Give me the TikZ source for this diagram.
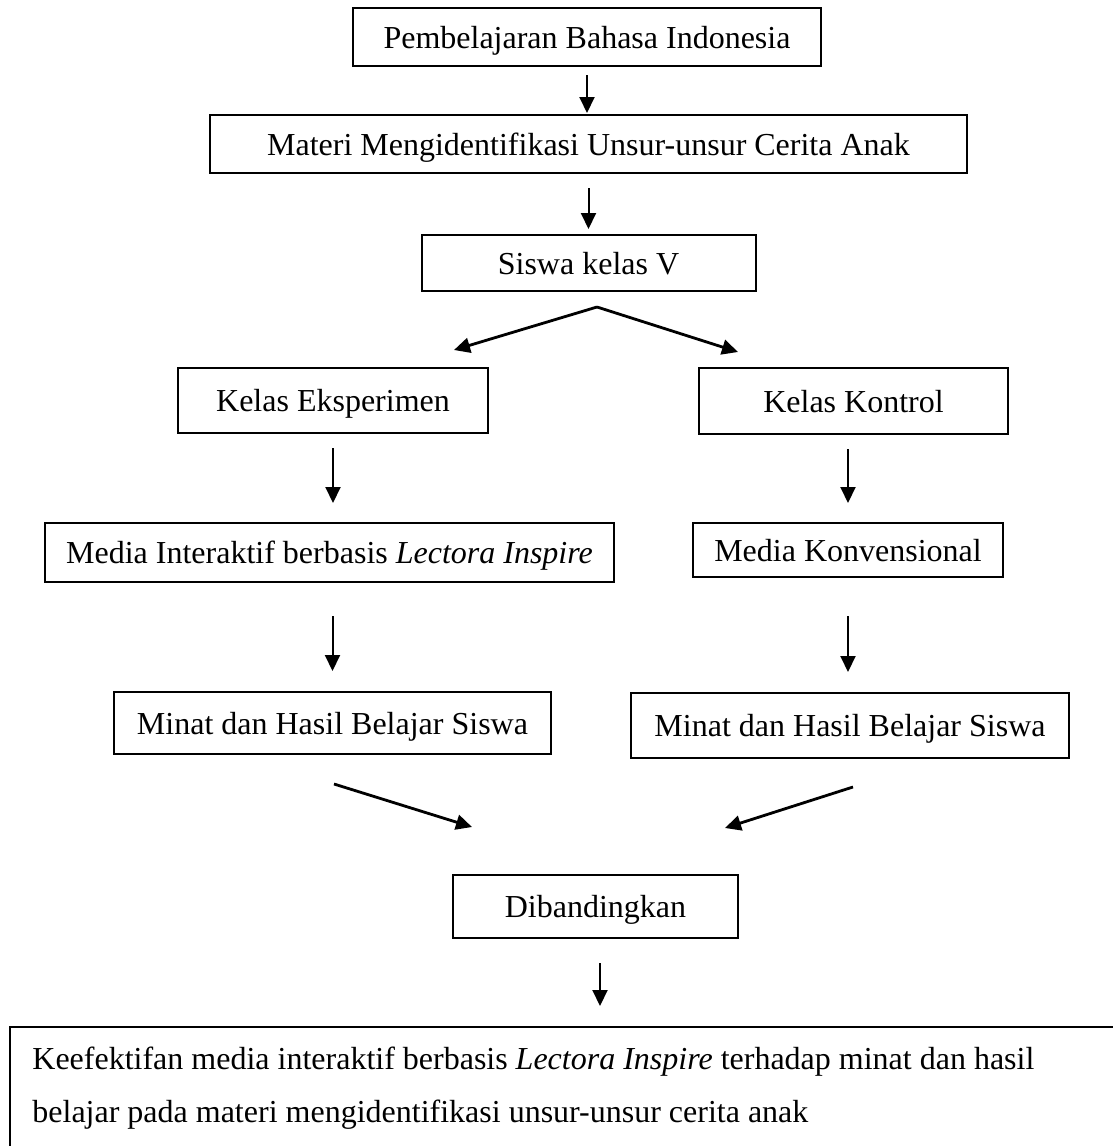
\documentclass[tikz,border=0pt]{standalone}
\usepackage{fontspec}
\setmainfont{Liberation Serif}
\usetikzlibrary{arrows.meta}
\begin{document}
\begin{tikzpicture}[x=0.5pt,y=-0.5pt,
  box/.style={draw, line width=1pt, inner sep=0pt, text height=13pt, text depth=1.6pt,
    font=\fontsize{16pt}{19pt}\selectfont},
  arr/.style={line width=1pt, -{Triangle[length=8pt,width=7.5pt]}},
  darr/.style={line width=1.4pt, -{Triangle[length=8pt,width=7.5pt]}},
  frame/.style={draw, line width=1pt}]
\useasboundingbox (0,0) rectangle (1113,1146);
\clip (0,0) rectangle (1113,1146);

% boxes
\node[box, minimum width=234pt, minimum height=29pt] (b1) at (587,37) {Pembelajaran Bahasa Indonesia};
\node[box, minimum width=378.5pt, minimum height=29pt] (b2) at (588.5,144) {Materi Mengidentifikasi Unsur-unsur Cerita Anak};
\node[box, minimum width=167pt, minimum height=28pt] (b3) at (588.5,263) {Siswa kelas V};
\node[box, minimum width=155pt, minimum height=32.5pt] (ke) at (333,400.5) {Kelas Eksperimen};
\node[box, minimum width=154.5pt, minimum height=33pt] (kk) at (853.5,401) {Kelas Kontrol};
\node[box, minimum width=284.5pt, minimum height=29.5pt] (mi) at (329.5,552.5) {Media Interaktif berbasis \textit{Lectora Inspire}};
\node[box, minimum width=155pt, minimum height=27pt] (mk) at (848,550) {Media Konvensional};
\node[box, minimum width=218.5pt, minimum height=31pt] (ml) at (332.5,723) {Minat dan Hasil Belajar Siswa};
\node[box, minimum width=219pt, minimum height=32.5pt] (mr) at (850,725.5) {Minat dan Hasil Belajar Siswa};
\node[box, minimum width=142.5pt, minimum height=31.5pt] (db) at (595.5,906.5) {Dibandingkan};

% result box (runs off the page at right and bottom)
\draw[frame] (10,1300) -- (10,1027) -- (1300,1027) -- (1300,1300);
\node[anchor=north west, inner sep=0pt, align=left,
  font=\fontsize{16pt}{26.5pt}\selectfont] (res) at (32,1047)
  {Keefektifan media interaktif berbasis \textit{Lectora Inspire} terhadap minat dan hasil\\
   belajar pada materi mengidentifikasi unsur-unsur cerita anak};

% connector coordinates
\coordinate (sp) at (597,307);
\coordinate (tl) at (454,350);
\coordinate (tr) at (738,352);
\coordinate (cl1) at (334,784);
\coordinate (cl2) at (472,827);
\coordinate (cr1) at (853,787);
\coordinate (cr2) at (725,828);
\coordinate (rtop) at (600,1027);

% arrows
\draw[arr, shorten <=4pt, shorten >=0.5pt] (b1.south) -- (b1.south |- b2.north);
\draw[arr, shorten <=7pt, shorten >=2.5pt] (b2.south) -- (b2.south |- b3.north);
\draw[darr] (sp) -- (tl);
\draw[darr] (sp) -- (tr);
\draw[arr, shorten <=7pt, shorten >=9.5pt] (ke.south) -- (ke.south |- mi.north);
\draw[arr, shorten <=7pt, shorten >=9.5pt] (mk.north |- kk.south) -- (mk.north);
\draw[arr, shorten <=16.5pt, shorten >=10pt] (ml.north |- mi.south) -- (ml.north);
\draw[arr, shorten <=19pt, shorten >=10pt] (mk.south) -- (mk.south |- mr.north);
\draw[darr] (cl1) -- (cl2);
\draw[darr] (cr1) -- (cr2);
\draw[arr, shorten <=12pt, shorten >=10.5pt] (db.south -| rtop) -- (rtop);
\end{tikzpicture}
\end{document}
